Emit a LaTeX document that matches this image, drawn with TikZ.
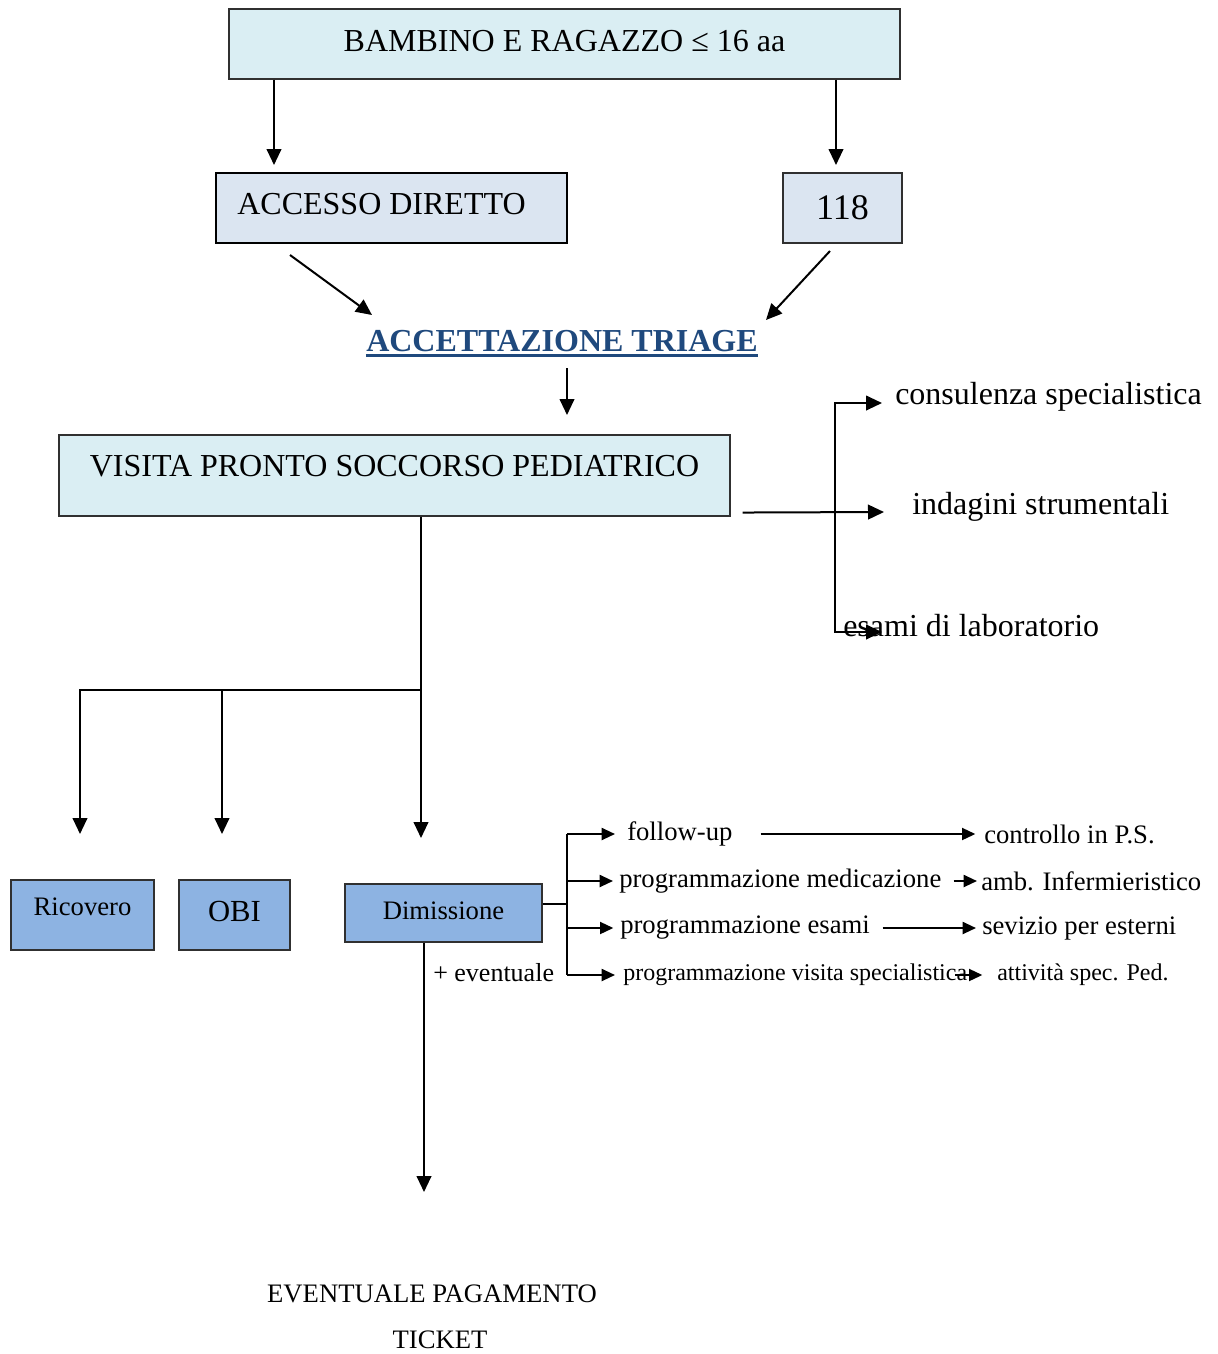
\documentclass[tikz,border=0pt]{standalone}
\usepackage{fontspec}
\setmainfont{Liberation Serif}
\usetikzlibrary{arrows.meta}

\definecolor{paleCyan}{HTML}{DAEEF3}
\definecolor{paleSteel}{HTML}{DBE5F1}
\definecolor{midBlue}{HTML}{8DB3E2}
\definecolor{titleBlue}{HTML}{1F497D}
\definecolor{edgeGrey}{HTML}{303030}

\newcommand{\fsz}[1]{\fontsize{#1}{#1}\selectfont}

\tikzset{
  boxshape/.style={draw=edgeGrey, line width=0.8pt, inner sep=0pt},
  cyanbox/.style={boxshape, fill=paleCyan},
  steelbox/.style={boxshape, fill=paleSteel},
  bluebox/.style={boxshape, fill=midBlue},
  txt/.style={inner sep=0pt, text=black},
  wtxt/.style={txt, anchor=west},
  link/.style={line width=1.5pt, black},
  arr/.style={link, -{Triangle[length=12pt,width=11pt]}},
  sarr/.style={link, -{Triangle[length=10pt,width=9pt]}},
}

\begin{document}
\begin{tikzpicture}[x=0.75pt, y=-0.75pt]
\useasboundingbox[fill=white] (0,0) rectangle (1218,1354);

% ---- top level ----
\node[cyanbox, minimum width=503.25pt, minimum height=52.5pt] (top) at (564.5,44) {};
\node[txt, font=\fsz{24}] (toptxt) at ([yshift=2pt]top.center) {BAMBINO E RAGAZZO ≤ 16 aa};

\node[steelbox, line width=1.6pt, draw=black, minimum width=263.25pt, minimum height=52.5pt] (acc) at (391.5,208) {};
\node[txt, font=\fsz{24}] (acctxt) at ([shift={(-7.5pt,3pt)}]acc.center) {ACCESSO DIRETTO};

\node[steelbox, minimum width=89.25pt, minimum height=52.5pt] (emerg) at (842.5,208) {};
\node[txt, font=\fsz{27}] (emergtxt) at ([yshift=0pt]emerg.center) {118};

\coordinate (acctip) at (274,165);
\coordinate (emergtip) at (836,165);
\draw[arr] (top.south -| acctip) -- (acctip);
\draw[arr] (top.south -| emergtip) -- (emergtip);

% ---- triage ----
\node[txt, font=\fsz{24}\bfseries, text=titleBlue] (triage) at (562,341) {ACCETTAZIONE TRIAGE};
\draw[titleBlue, line width=2.2pt] ([yshift=-3pt]triage.base west) -- ([yshift=-3pt]triage.base east);

\coordinate (diagAs) at (290,255);
\coordinate (diagAe) at (372,315);
\coordinate (diagBs) at (830,251);
\coordinate (diagBe) at (766,320);
\draw[arr] (diagAs) -- (diagAe);
\draw[arr] (diagBs) -- (diagBe);

% ---- visit ----
\node[cyanbox, minimum width=503.25pt, minimum height=60.75pt] (visita) at (394.5,475.5) {};
\node[txt, font=\fsz{24}] (visitatxt) at ([yshift=7pt]visita.center) {VISITA PRONTO SOCCORSO PEDIATRICO};

\coordinate (trgs) at (567,368);
\coordinate (trge) at (567,415);
\draw[arr] (trgs) -- (trge);

% ---- side investigations ----
\node[wtxt, font=\fsz{24}] (cons) at (895,397) {consulenza specialistica};
\node[wtxt, font=\fsz{24}] (indag) at (912,507) {indagini strumentali};
\node[wtxt, font=\fsz{24}] (esami) at (843,626) {esami di laboratorio};

\coordinate (bus) at (835,512);
\coordinate (constip) at (882,403);
\coordinate (indtip) at (884,512);
\coordinate (esatip) at (882,632);
\draw[arr] ([shift={(9pt,3pt)}]visita.south east) -- (indtip);
\draw[arr] (bus) |- (constip);
\draw[arr] (bus) |- (esatip);

% ---- outcomes ----
\node[bluebox, minimum width=107.25pt, minimum height=52.5pt] (ric) at (82.5,915) {};
\node[txt, font=\fsz{20}] (rictxt) at ([yshift=6pt]ric.center) {Ricovero};
\node[bluebox, minimum width=83.25pt, minimum height=52.5pt] (obi) at (234.5,915) {};
\node[txt, font=\fsz{23}] (obitxt) at ([yshift=3pt]obi.center) {OBI};
\node[bluebox, minimum width=147.75pt, minimum height=43.5pt] (dim) at (443.5,913) {};
\node[txt, font=\fsz{20}] (dimtxt) at ([yshift=2pt]dim.center) {Dimissione};

\coordinate (split) at (421,690);
\coordinate (rictip) at (80,834);
\coordinate (obitip) at (222,834);
\coordinate (dimtip) at (421,838);
\draw[link] (visita.south -| split) -- (split);
\draw[arr] (split) -- (dimtip);
\draw[arr] (split) -| (rictip);
\draw[arr] (split -| obitip) -- (obitip);

% ---- discharge follow-ups ----
\node[wtxt, font=\fsz{20}] (fu) at (627,834) {follow-up};
\node[wtxt, font=\fsz{20}] (pmed) at (619,881) {programmazione medicazione};
\node[wtxt, font=\fsz{20}] (pesa) at (620,928) {programmazione esami};
\node[wtxt, font=\fsz{18}] (pvis) at (623,975) {programmazione visita specialistica};
\node[wtxt, font=\fsz{19.5}] (event) at (433,973) {+ eventuale};

\node[wtxt, font=\fsz{20}] (ctrl) at (984,834) {controllo in P.S.};
\node[wtxt, font=\fsz{20}] (amb) at (981,881) {amb. Infermieristico};
\node[wtxt, font=\fsz{20}] (serv) at (982,928) {sevizio per esterni};
\node[wtxt, font=\fsz{18}] (att) at (997,975) {attività spec. Ped.};

\coordinate (fork) at (567,904);
\draw[link] (dim.east |- fork) -- (fork);
\draw[link] (fork |- fu.west) -- (fork |- pvis.west);
\draw[sarr] (fork |- fu.west) -- ([xshift=-9pt]fu.west);
\draw[sarr] (fork |- pmed.west) -- ([xshift=-4.5pt]pmed.west);
\draw[sarr] (fork |- pesa.west) -- ([xshift=-5pt]pesa.west);
\draw[sarr] (fork |- pvis.west) -- ([xshift=-6pt]pvis.west);

\draw[sarr] ([xshift=21pt]fu.east) -- ([xshift=-6.5pt]ctrl.west);
\draw[sarr] ([xshift=9pt]pmed.east) -- ([xshift=-3pt]amb.west);
\draw[sarr] ([xshift=9.5pt]pesa.east) -- ([xshift=-4.5pt]serv.west);
\draw[sarr] ([xshift=-9pt]pvis.east) -- ([xshift=-11pt]att.west);

% ---- payment ----
\node[txt, font=\fsz{20}] (pay) at (432,1294) {EVENTUALE PAGAMENTO};
\node[txt, font=\fsz{20}] (ticket) at (440,1340) {TICKET};
\coordinate (paytip) at (424,1192);
\draw[arr] (dim.south -| paytip) -- (paytip);

\end{tikzpicture}
\end{document}
